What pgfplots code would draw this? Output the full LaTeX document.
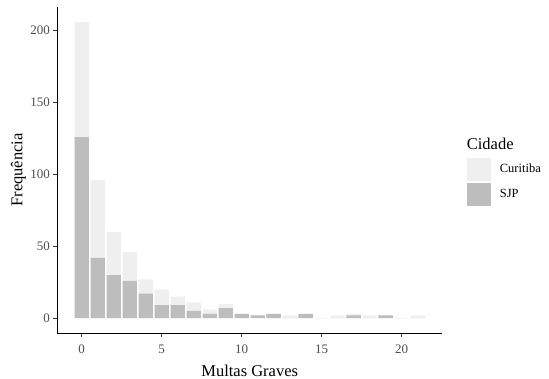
\documentclass[border=0pt]{standalone}
\usepackage{fontspec}
\setmainfont{Liberation Serif}
\usepackage{pgfplots}
\usepackage{pgfplotstable}
\pgfplotsset{compat=1.18}
\definecolor{cur}{HTML}{EFEFEF}
\definecolor{sjp}{HTML}{BDBDBD}
\definecolor{ticktext}{HTML}{4D4D4D}
\definecolor{tickline}{HTML}{333333}
\pgfplotstableread{
x cur sjp
0 206 126
1 96 42
2 60 30
3 46 26
4 27 17
5 20 9
6 15 9
7 11 5
8 6 3
9 10 7
10 3 3
11 2 2
12 3 3
13 2 0
14 3 3
15 0 0
16 2 0
17 3 2
18 2 0
19 2 2
20 0 0
21 2 0
}\datatable
\begin{document}
\begin{tikzpicture}[x=1pt,y=1pt]
\useasboundingbox (0,0) rectangle (549,379);
\begin{axis}[
  at={(57pt,46pt)}, anchor=south west,
  scale only axis, width=385.4pt, height=326.2pt,
  xmin=-1.545, xmax=22.545, ymin=-10.3, ymax=216.6,
  axis x line*=bottom, axis y line*=left,
  axis line style={black, line width=0.9pt},
  xtick={0,5,10,15,20}, ytick={0,50,100,150,200},
  tick align=outside, major tick length=3.7pt,
  tick style={tickline, line width=0.8pt},
  /pgf/number format/assume math mode=true,
  ticklabel style={font=\fontsize{13}{15}\selectfont, text=ticktext},
  xticklabel style={yshift=-4.5pt},
  xlabel={Multas Graves}, ylabel={Frequência},
  label style={font=\fontsize{16.5}{19}\selectfont},
  xlabel style={yshift=-5pt},
  ylabel style={yshift=-2.5pt},
  ybar, bar width=0.9, bar shift=0pt,
  legend image code/.code={\fill[#1] (0pt,-11.5pt) rectangle (24pt,11.5pt);},
  legend style={at={(1.063,0.5374)}, anchor=north west, draw=none, fill=none,
    inner sep=0pt, row sep=2pt, column sep=9pt,
    nodes={inner sep=0pt, font=\fontsize{12.5}{14}\selectfont}},
  legend cell align=left,
  clip=false,
]
\addplot[fill=cur, draw=none] table[x=x, y=cur] {\datatable};
\addlegendentry{Curitiba}
\addplot[fill=sjp, draw=none] table[x=x, y=sjp] {\datatable};
\addlegendentry{SJP}
\node[anchor=base west, font=\fontsize{16.5}{19}\selectfont, inner sep=0pt] at (rel axis cs:1.063,0.5632) {Cidade};
\end{axis}
\end{tikzpicture}
\end{document}
